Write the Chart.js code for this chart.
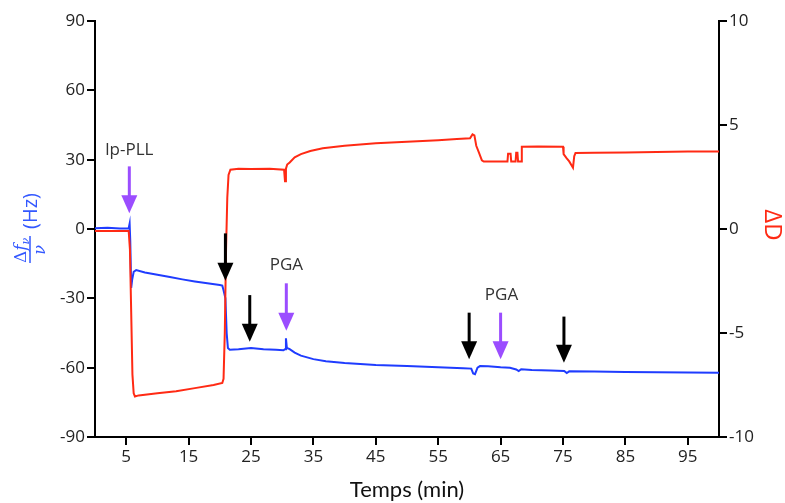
<!DOCTYPE html>
<html><head><meta charset="utf-8">
<script src="https://cdn.jsdelivr.net/npm/chart.js@4"></script>
<style>html,body{margin:0;padding:0;background:#fff}#wrap{width:785px;height:503px}</style>
</head><body><div id="wrap"><canvas id="c" width="785" height="503"></canvas></div>
<script>
// Frequency shift Δf/ν (Hz), left axis
const timeFreq = [0,2,4,5.4,5.55,5.65,5.8,5.95,6.2,6.6,8,10,12,14,16,18,20,20.4,20.6,20.9,21.1,21.3,21.6,23,25,27,29,30.2,30.45,30.6,30.75,31.2,32,33,35,37,40,45,50,55,59,60.3,60.6,60.9,61.3,61.7,63,65,66.5,67.5,67.9,68.3,70,73,75.2,75.6,76,80,85,90,95,100];
const freqShift = [0.3,0.5,0.2,0.3,2.3,-5,-25.5,-22,-18.5,-17.8,-18.8,-19.8,-20.8,-21.8,-22.7,-23.5,-24.2,-24.5,-26.5,-30,-45,-51.5,-52.2,-52,-51.5,-52,-52.3,-52.5,-52,-47.3,-51.5,-52,-53.5,-54.8,-56.3,-57.2,-58,-58.8,-59.3,-59.8,-60.2,-60.4,-62.5,-62.8,-60,-59.3,-59.4,-59.8,-60,-60.8,-61.5,-60.7,-61,-61.2,-61.4,-62.3,-61.6,-61.7,-61.9,-62,-62.1,-62.2];
// Dissipation shift ΔD, right axis
const timeDiss = [0,5.4,5.6,5.8,6.0,6.2,6.4,7,10,13,16,19,20.4,20.6,20.8,21.0,21.2,21.4,21.7,23,25,28,30.3,30.45,30.6,30.8,31.2,32,33,34.5,36.5,40,45,50,55,58,60.1,60.5,60.8,61.1,61.5,62,62.3,66.1,66.2,66.6,66.7,67.4,67.5,67.7,67.8,68.3,68.4,71,75,75.1,75.6,76.0,76.6,76.8,77.0,80,85,90,95,100];
const dissShift = [-0.1,-0.1,-1,-4,-7,-7.9,-8.05,-8.0,-7.9,-7.8,-7.65,-7.5,-7.4,-7.2,-5,-1,1.5,2.6,2.85,2.9,2.88,2.9,2.85,2.3,2.9,3.1,3.2,3.45,3.6,3.75,3.88,4.0,4.12,4.2,4.27,4.33,4.36,4.55,4.5,4.0,3.7,3.3,3.24,3.24,3.62,3.62,3.24,3.24,3.66,3.66,3.24,3.24,3.95,3.97,3.95,3.6,3.4,3.25,2.95,3.5,3.65,3.66,3.68,3.7,3.72,3.72];

const xTickValues = [5,15,25,35,45,55,65,75,85,95];
const leftTickValues = [-90,-60,-30,0,30,60,90];
const rightTickValues = [-10,-5,0,5,10];

// Injection arrows: time (min), shaft top and tip in Hz (left axis)
const arrowTime = [5.5,20.9,24.8,30.66,59.96,65.0,75.15];
const arrowTop  = [27.1,-1.9,-28.6,-23.5,-36.2,-36.2,-37.9];
const arrowTip  = [6.8,-22.4,-48.8,-44.0,-56.4,-56.4,-57.9];
const arrowKind = ['purple','black','black','purple','black','purple','black'];
// Arrow labels
const labelText = ['lp-PLL','PGA','PGA'];
const labelTime = [5.5,30.66,65.15];
const labelHz   = [34.2,-15.8,-28.6];

const colors = {purple:'#9b4dff', black:'#000000'};

const annot = {
  id:'annot',
  afterDatasetsDraw(chart){
    const ctx = chart.ctx, xs = chart.scales.x, ys = chart.scales.y;
    ctx.save();
    for (let i=0;i<arrowTime.length;i++){
      const x = xs.getPixelForValue(arrowTime[i]);
      const y0 = ys.getPixelForValue(arrowTop[i]);
      const y1 = ys.getPixelForValue(arrowTip[i]);
      const head = 18, hw = 8;
      ctx.strokeStyle = ctx.fillStyle = colors[arrowKind[i]];
      ctx.lineWidth = 3;
      ctx.beginPath(); ctx.moveTo(x,y0); ctx.lineTo(x,y1-head+1); ctx.stroke();
      ctx.beginPath(); ctx.moveTo(x-hw,y1-head); ctx.lineTo(x+hw,y1-head); ctx.lineTo(x,y1); ctx.closePath(); ctx.fill();
    }
    ctx.fillStyle = '#333';
    ctx.font = '17px "Open Sans"';
    ctx.textAlign='center'; ctx.textBaseline='middle';
    for (let i=0;i<labelText.length;i++){
      ctx.fillText(labelText[i], xs.getPixelForValue(labelTime[i]), ys.getPixelForValue(labelHz[i]));
    }
    ctx.restore();
  },
  afterDraw(chart){
    const ctx = chart.ctx;
    // left axis title: Δf_ν / ν (Hz)
    ctx.save();
    ctx.translate(30, 226);
    ctx.rotate(-Math.PI/2);
    ctx.fillStyle = ctx.strokeStyle = '#3358ff';
    ctx.lineWidth = 1.5;
    ctx.beginPath(); ctx.moveTo(-37,0); ctx.lineTo(-10,0); ctx.stroke();
    ctx.textBaseline='alphabetic'; ctx.textAlign='left';
    ctx.font = '17px "DejaVu Serif"';
    let u = -37;
    ctx.fillText('Δ', u, -4); u += ctx.measureText('Δ').width;
    ctx.font = 'italic 17px "DejaVu Serif"';
    ctx.fillText('f', u, -4); u += ctx.measureText('f').width;
    ctx.font = 'italic 11px "DejaVu Serif"';
    ctx.fillText('ν', u, -1);
    ctx.font = 'italic 16px "DejaVu Serif"';
    ctx.textAlign='center';
    ctx.fillText('ν', -24, 15);
    ctx.font = '20px "Open Sans"';
    ctx.textAlign='left'; ctx.textBaseline='middle';
    ctx.fillText('(Hz)', -3, 1);
    ctx.restore();
    // right axis title ΔD
    ctx.save();
    ctx.translate(772, 225);
    ctx.rotate(Math.PI/2);
    ctx.fillStyle = '#ff2a14';
    ctx.font = '24px "Open Sans"';
    ctx.textAlign='center'; ctx.textBaseline='middle';
    ctx.fillText('ΔD', 0, 0);
    ctx.restore();
  }
};

const gridOpts = {display:true, drawOnChartArea:false, drawTicks:true, tickLength:8, color:'#000', lineWidth:2};
const tickFont = {family:'Open Sans', size:17};

new Chart(document.getElementById('c'), {
  type:'line',
  data:{
    datasets:[
      {label:'ΔD', data: timeDiss.map((t,i)=>({x:t,y:dissShift[i]})), yAxisID:'y2', borderColor:'#ff2a14', borderWidth:2, pointRadius:0, tension:0, order:1},
      {label:'Δf/ν', data: timeFreq.map((t,i)=>({x:t,y:freqShift[i]})), yAxisID:'y', borderColor:'#1f3cff', borderWidth:2, pointRadius:0, tension:0, order:2}
    ]
  },
  options:{
    responsive:false, animation:false, devicePixelRatio:1,
    layout:{padding:{top:21,left:0,right:0,bottom:0}},
    plugins:{legend:{display:false}, tooltip:{enabled:false}},
    scales:{
      x:{type:'linear', position:'bottom', min:0, max:100,
        afterBuildTicks(s){ s.ticks = xTickValues.map(v=>({value:v})); },
        afterFit(s){ s.height = 66; s.paddingLeft = 0; s.paddingRight = 0; },
        grid:gridOpts, border:{display:true,color:'#000',width:2},
        ticks:{color:'#222', font:tickFont, padding:2, maxRotation:0, autoSkip:false},
        title:{display:true, text:'Temps (min)', color:'#111', font:{family:'Lato', size:22}, padding:{top:4,bottom:0}}
      },
      y:{type:'linear', position:'left', min:-90, max:90,
        afterBuildTicks(s){ s.ticks = leftTickValues.map(v=>({value:v})); },
        afterFit(s){ s.width = 95; s.paddingTop = 0; s.paddingBottom = 0; },
        grid:gridOpts, border:{display:true,color:'#000',width:2},
        ticks:{color:'#222', font:tickFont, padding:2}
      },
      y2:{type:'linear', position:'right', min:-10, max:10,
        afterBuildTicks(s){ s.ticks = rightTickValues.map(v=>({value:v})); },
        afterFit(s){ s.width = 66; s.paddingTop = 0; s.paddingBottom = 0; },
        grid:gridOpts, border:{display:true,color:'#000',width:2},
        ticks:{color:'#222', font:tickFont, padding:2}
      }
    }
  },
  plugins:[annot]
});
</script></body></html>
